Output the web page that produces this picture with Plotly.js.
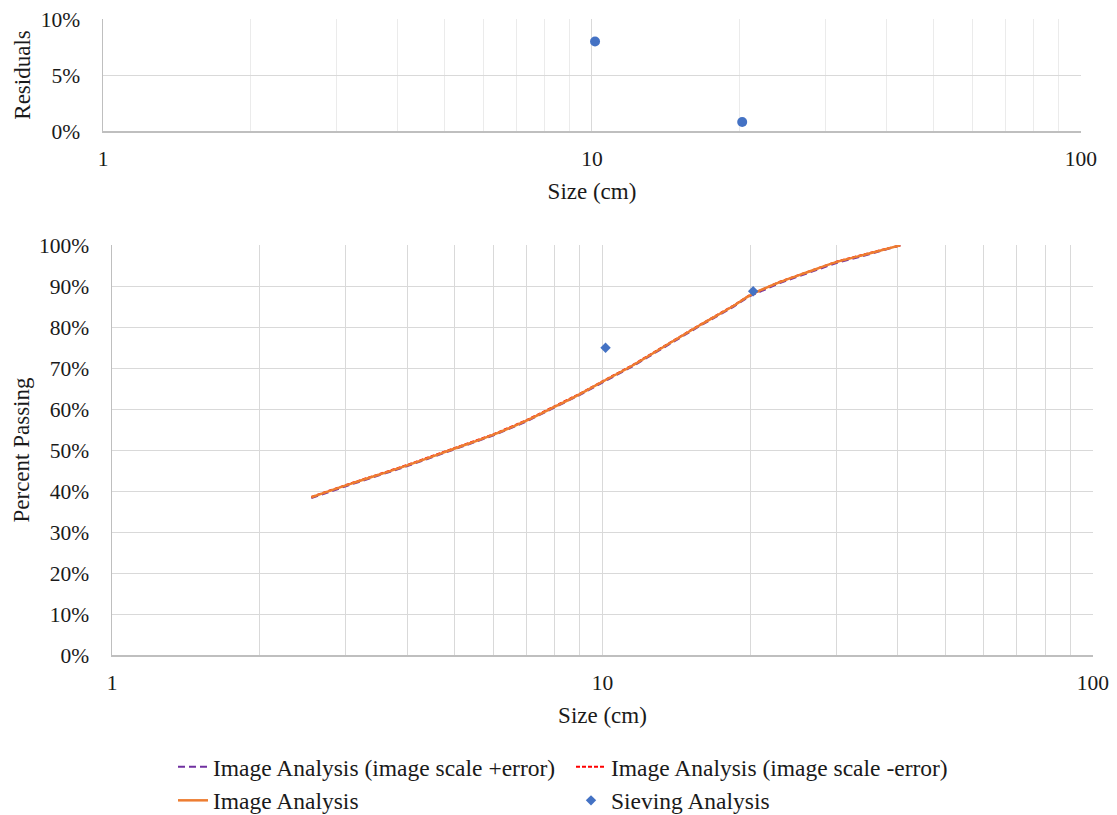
<!DOCTYPE html>
<html>
<head>
<meta charset="utf-8">
<script src="https://cdn.plot.ly/plotly-3.0.1.min.js"></script>
<style>html,body{margin:0;padding:0;background:#fff;}#chart{width:1117px;height:815px;}</style>
</head>
<body>
<div id="chart"></div>
<script>
// Image analysis curve (size in cm, fraction passing)
const sizeImage = [2.55, 3, 4, 5, 6, 7, 8, 9, 10, 11.5, 13.5, 15.8, 18.5, 20, 23, 26, 30, 35, 40.5];
const passImage = [0.385, 0.414, 0.463, 0.504, 0.538, 0.572, 0.606, 0.637, 0.667, 0.706, 0.756, 0.805, 0.852, 0.878, 0.910, 0.933, 0.959, 0.980, 1.000];
// Image scale +error / -error curves (nearly identical, hidden below the main curve)
const sizePlusErr = [2.55, 3, 4, 5, 6, 7, 8, 9, 10, 11.5, 13.5, 15.8, 18.5, 20, 23, 26, 30, 35, 40.5];
const passPlusErr = [0.383, 0.412, 0.461, 0.502, 0.536, 0.570, 0.604, 0.635, 0.665, 0.704, 0.754, 0.803, 0.850, 0.876, 0.908, 0.931, 0.957, 0.978, 1.000];
const sizeMinusErr = [2.55, 3, 4, 5, 6, 7, 8, 9, 10, 11.5, 13.5, 15.8, 18.5, 20, 23, 26, 30, 35, 40.5];
const passMinusErr = [0.386, 0.415, 0.464, 0.505, 0.539, 0.573, 0.607, 0.638, 0.668, 0.707, 0.757, 0.806, 0.853, 0.879, 0.911, 0.934, 0.960, 0.981, 1.000];
// Sieving analysis
const sizeSieve = [10.15, 20.3];
const passSieve = [0.75, 0.888];
// Residuals
const sizeResid = [10.15, 20.3];
const residVals = [0.080, 0.008];
// Tick labels
const majorTicks = [1, 10, 100];
const majorLabels = ['1', '10', '100'];
const minorTicks = [2, 3, 4, 5, 6, 7, 8, 9, 20, 30, 40, 50, 60, 70, 80, 90];
const residTicks = [0, 0.05, 0.10];
const passTicks = [0, 0.1, 0.2, 0.3, 0.4, 0.5, 0.6, 0.7, 0.8, 0.9, 1.0];

const W = 1117, H = 815;
const FONT = 'Liberation Serif';
const TXT = '#1a1a1a';
const fsTick = 21.5;
const fsTitle = 23;
const fsLegend = 23.5;

const traces = [
  {x: sizePlusErr, y: passPlusErr, xaxis: 'x2', yaxis: 'y2', mode: 'lines', name: 'Image Analysis (image scale +error)',
   line: {color: '#7030A0', width: 2, dash: '7px,4px'}},
  {x: sizeMinusErr, y: passMinusErr, xaxis: 'x2', yaxis: 'y2', mode: 'lines', name: 'Image Analysis (image scale -error)',
   line: {color: '#FF0000', width: 2, dash: '4px,2px'}},
  {x: sizeImage, y: passImage, xaxis: 'x2', yaxis: 'y2', mode: 'lines', name: 'Image Analysis',
   line: {color: '#ED7D31', width: 2.5, shape: 'spline'}},
  {x: sizeSieve, y: passSieve, xaxis: 'x2', yaxis: 'y2', mode: 'markers', name: 'Sieving Analysis',
   marker: {color: '#4472C4', symbol: 'diamond', size: 8}},
  {x: sizeResid, y: residVals, xaxis: 'x', yaxis: 'y', mode: 'markers', name: 'Residuals', showlegend: false,
   marker: {color: '#4472C4', symbol: 'circle', size: 10}}
];

function xaxisDef(left, right, majorGrid, minorGrid, anchor) {
  return {
    type: 'log', range: [0, 2.0005], domain: [left / W, right / W], anchor: anchor,
    tickmode: 'array', tickvals: majorTicks, ticktext: majorLabels,
    showgrid: true, gridcolor: majorGrid, gridwidth: 1,
    minor: {tickmode: 'array', tickvals: minorTicks, showgrid: true, gridcolor: minorGrid, gridwidth: 1, ticks: ''},
    showline: true, linecolor: '#bfbfbf', linewidth: 1.5, mirror: false,
    ticks: '', ticklabelstandoff: 8, zeroline: false, automargin: false,
    tickfont: {family: FONT, size: fsTick, color: TXT},
    title: {text: 'Size (cm)', font: {family: FONT, size: fsTitle, color: TXT}, standoff: 12}
  };
}
function yaxisDef(top, bottom, rangeMax, ticks, anchor, titleText) {
  return {
    range: [0, rangeMax * 1.0008], domain: [(H - bottom) / H, (H - top) / H], anchor: anchor,
    tickmode: 'array', tickvals: ticks, tickformat: '.0%',
    showgrid: true, gridcolor: '#d9d9d9', gridwidth: 1,
    showline: true, linecolor: '#bfbfbf', linewidth: 1.5, mirror: false,
    ticks: '', ticklabelstandoff: 17, zeroline: false, automargin: false,
    tickfont: {family: FONT, size: fsTick, color: TXT},
    title: {text: titleText, font: {family: FONT, size: fsTitle, color: TXT}, standoff: 3}
  };
}

const layout = {
  width: W, height: H,
  margin: {l: 0, r: 0, t: 0, b: 0, autoexpand: false},
  paper_bgcolor: '#ffffff', plot_bgcolor: '#ffffff',
  font: {family: FONT, size: fsTitle, color: TXT},
  showlegend: true,
  xaxis: xaxisDef(103, 1081, '#d9d9d9', '#ebebeb', 'y'),
  yaxis: yaxisDef(19, 131, 0.1, residTicks, 'x', 'Residuals'),
  xaxis2: xaxisDef(112, 1093, '#d9d9d9', '#d9d9d9', 'y2'),
  yaxis2: yaxisDef(245, 655, 1.0, passTicks, 'x2', 'Percent Passing'),
  legend: {
    orientation: 'h', x: 173 / W, y: (H - 745) / H, xanchor: 'left', yanchor: 'top',
    entrywidth: 353, entrywidthmode: 'pixels',
    font: {family: FONT, size: fsLegend, color: TXT}, bgcolor: 'rgba(0,0,0,0)', traceorder: 'normal'
  }
};

Plotly.newPlot('chart', traces, layout, {displayModeBar: false, staticPlot: true});
</script>
</body>
</html>
